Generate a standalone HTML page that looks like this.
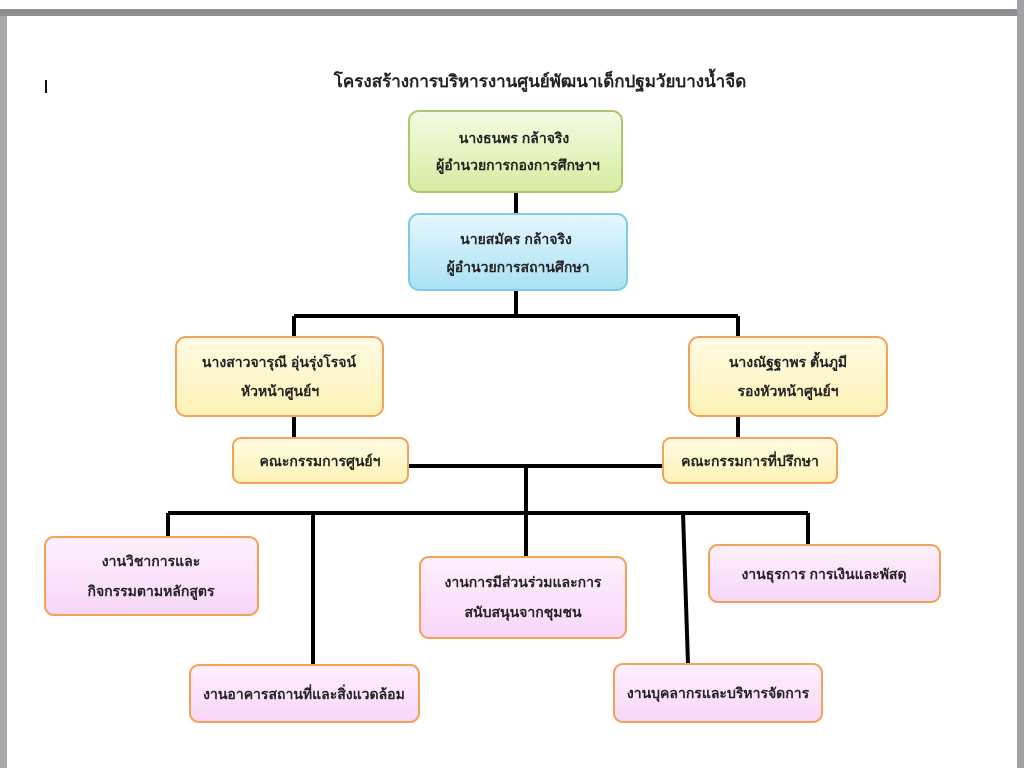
<!DOCTYPE html>
<html><head><meta charset="utf-8"><style>
html,body{margin:0;padding:0;width:1024px;height:768px;overflow:hidden;background:#a9a9ad}
svg{display:block}
text{font-family:"Liberation Sans","DejaVu Sans",sans-serif;font-weight:bold;fill:#222;font-size:14px}
</style></head><body>
<svg width="1024" height="768" viewBox="0 0 1024 768">
<defs>
<linearGradient id="g" x1="0" y1="0" x2="0" y2="1"><stop offset="0" stop-color="#f4fbe4"/><stop offset="1" stop-color="#d6ec9f"/></linearGradient>
<linearGradient id="b" x1="0" y1="0" x2="0" y2="1"><stop offset="0" stop-color="#e6f7fd"/><stop offset="1" stop-color="#a9e1f5"/></linearGradient>
<linearGradient id="y" x1="0" y1="0" x2="0" y2="1"><stop offset="0" stop-color="#fffbe4"/><stop offset="1" stop-color="#fdf2b5"/></linearGradient>
<linearGradient id="p" x1="0" y1="0" x2="0" y2="1"><stop offset="0" stop-color="#fdf0fd"/><stop offset="1" stop-color="#f8d6f8"/></linearGradient>
</defs>
<rect x="0" y="0" width="1017" height="9" fill="#fff"/>
<rect x="0" y="9" width="1024" height="7" fill="#8e8e92"/>
<rect x="7" y="16" width="1010" height="752" fill="#fff"/>
<rect x="1017" y="0" width="7" height="768" fill="#a2a2a6"/>
<rect x="45" y="80" width="2" height="13" fill="#111"/>
<text x="540" y="87" text-anchor="middle" style="font-family:'Liberation Serif','DejaVu Serif',serif;font-size:17px">โครงสร้างการบริหารงานศูนย์พัฒนาเด็กปฐมวัยบางน้ำจืด</text>
<g stroke="#000" stroke-width="4" fill="none">
<path d="M516 192V214M516 290V316M294 316H738M294 316V337M738 316V337M294 416V438M738 416V438M408 466H663M526 466V513M168 513H808M168 513V537M313 513V665M526 513V557M683 513L688 664M808 513V545"/>
</g>
<g stroke-width="2">
<rect x="409" y="111" width="213" height="81" rx="10" fill="url(#g)" stroke="#a9c96a"/>
<rect x="409" y="214" width="218" height="76" rx="10" fill="url(#b)" stroke="#7ecbe8"/>
<rect x="176" y="337" width="207" height="79" rx="10" fill="url(#y)" stroke="#f2a35a"/>
<rect x="689" y="337" width="198" height="79" rx="10" fill="url(#y)" stroke="#f2a35a"/>
<rect x="233" y="438" width="175" height="45" rx="8" fill="url(#y)" stroke="#f2a35a"/>
<rect x="663" y="438" width="174" height="45" rx="8" fill="url(#y)" stroke="#f2a35a"/>
<rect x="45" y="537" width="213" height="78" rx="9" fill="url(#p)" stroke="#f2a35a"/>
<rect x="190" y="665" width="229" height="57" rx="9" fill="url(#p)" stroke="#f2a35a"/>
<rect x="420" y="557" width="206" height="81" rx="9" fill="url(#p)" stroke="#f2a35a"/>
<rect x="709" y="545" width="231" height="57" rx="9" fill="url(#p)" stroke="#f2a35a"/>
<rect x="614" y="664" width="208" height="58" rx="9" fill="url(#p)" stroke="#f2a35a"/>
</g>
<g text-anchor="middle">
<text x="514" y="143">นางธนพร  กล้าจริง</text>
<text x="518" y="170">ผู้อำนวยการกองการศึกษาฯ</text>
<text x="516" y="244">นายสมัคร  กล้าจริง</text>
<text x="518" y="272">ผู้อำนวยการสถานศึกษา</text>
<text x="279" y="367">นางสาวจารุณี  อุ่นรุ่งโรจน์</text>
<text x="280" y="396">หัวหน้าศูนย์ฯ</text>
<text x="788" y="367">นางณัฐฐาพร  ตั้นภูมี</text>
<text x="788" y="396">รองหัวหน้าศูนย์ฯ</text>
<text x="320" y="466">คณะกรรมการศูนย์ฯ</text>
<text x="750" y="466">คณะกรรมการที่ปรึกษา</text>
<text x="151" y="566">งานวิชาการและ</text>
<text x="151" y="596">กิจกรรมตามหลักสูตร</text>
<text x="304" y="699">งานอาคารสถานที่และสิ่งแวดล้อม</text>
<text x="523" y="587">งานการมีส่วนร่วมและการ</text>
<text x="523" y="617">สนับสนุนจากชุมชน</text>
<text x="824" y="579">งานธุรการ การเงินและพัสดุ</text>
<text x="718" y="698">งานบุคลากรและบริหารจัดการ</text>
</g>
</svg>
</body></html>
